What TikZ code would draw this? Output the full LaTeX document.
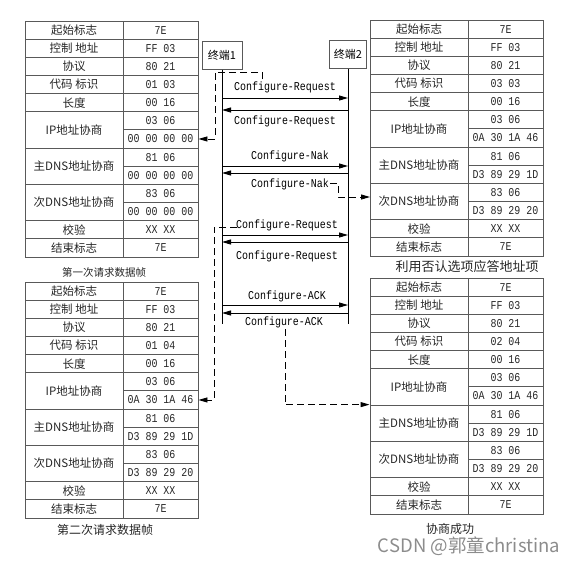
\documentclass[tikz,border=0pt]{standalone}
\usepackage{fontspec}
\usepackage{tikz}
\usetikzlibrary{arrows.meta}
\newfontfamily\cjkfont{Noto Sans CJK SC}
\newfontfamily\monofont[FakeStretch=0.83]{Liberation Mono}

\begin{document}
\begin{tikzpicture}[x=1pt, y=-1pt, line join=miter, >={Triangle[length=9pt,width=5pt]},
    cell/.style={draw=black!65, line width=0.9pt, inner sep=0pt, minimum height=18.15pt, text=black!85},
    keycell/.style={cell, minimum width=98pt, font=\cjkfont\fontsize{11.5}{12}\selectfont},
    valcell/.style={cell, minimum width=75pt, font=\monofont\fontsize{12}{12}\selectfont},
    term/.style={draw=black!65, line width=1pt, minimum height=28pt, inner sep=0pt, font=\cjkfont\fontsize{11}{12}\selectfont},
    msg/.style={->, line width=0.9pt},
    dashto/.style={->, line width=0.9pt, dash pattern=on 7pt off 4pt},
    lab/.style={font=\monofont\fontsize{12}{12}\selectfont, inner sep=0pt},
    frametitle/.style={font=\cjkfont\fontsize{#1}{14}\selectfont, text=black!85, inner sep=0pt}]
    \useasboundingbox (0,0) rectangle (577,563);

    % the four PPP frames
    \foreach \n/\fx/\fy/\cd/\ipv/\dnsv/\dnsw in {
        tl/25/21/01 03/00 00 00 00/00 00 00 00/00 00 00 00,
        tr/370/20/03 03/0A 30 1A 46/D3 89 29 1D/D3 89 29 20,
        bl/25/282/01 04/0A 30 1A 46/D3 89 29 1D/D3 89 29 20,
        br/370/278/02 04/0A 30 1A 46/D3 89 29 1D/D3 89 29 20} {
    \begin{scope}[shift={(\fx,\fy)}]
        \node[keycell] (\n-k1) at (49,9.08) {起始标志};
        \node[valcell] (\n-v1) at (135.5,9.08) {7E};
        \node[keycell] (\n-k2) at (49,27.23) {控制 地址};
        \node[valcell] (\n-v2) at (135.5,27.23) {FF 03};
        \node[keycell] (\n-k3) at (49,45.38) {协议};
        \node[valcell] (\n-v3) at (135.5,45.38) {80 21};
        \node[keycell] (\n-k4) at (49,63.53) {代码 标识};
        \node[valcell] (\n-v4) at (135.5,63.53) {\cd};
        \node[keycell] (\n-k5) at (49,81.68) {长度};
        \node[valcell] (\n-v5) at (135.5,81.68) {00 16};
        \node[keycell, minimum height=36.3pt] (\n-ip) at (49,108.9) {IP地址协商};
        \node[valcell] (\n-ip1) at (135.5,99.83) {03 06};
        \node[valcell] (\n-ip2) at (135.5,117.98) {\ipv};
        \node[keycell, minimum height=36.3pt] (\n-dns) at (49,145.2) {主DNS地址协商};
        \node[valcell] (\n-dns1) at (135.5,136.13) {81 06};
        \node[valcell] (\n-dns2) at (135.5,154.28) {\dnsv};
        \node[keycell, minimum height=36.3pt] (\n-dnsb) at (49,181.5) {次DNS地址协商};
        \node[valcell] (\n-dnsb1) at (135.5,172.43) {83 06};
        \node[valcell] (\n-dnsb2) at (135.5,190.58) {\dnsw};
        \node[keycell] (\n-chk) at (49,208.73) {校验};
        \node[valcell] (\n-chkv) at (135.5,208.73) {XX XX};
        \node[keycell] (\n-end) at (49,226.88) {结束标志};
        \node[valcell] (\n-endv) at (135.5,226.88) {7E};
    \end{scope}
    }

    \node[frametitle=10.5] (c1) at (104,272) {第一次请求数据帧};
    \node[frametitle=13] (c2) at (467,267) {利用否认选项应答地址项};
    \node[frametitle=12] (c3) at (105,530) {第二次请求数据帧};
    \node[frametitle=12] (c4) at (450,529) {协商成功};

    % terminals and lifelines
    \node[term, minimum width=40pt] (t1) at (222,55) {终端1};
    \node[term, minimum width=37pt] (t2) at (348,54.5) {终端2};
    \coordinate (t1e) at (222,324);
    \coordinate (t2e) at (348,324);
    \draw[line width=0.9pt] (t1) -- (t1e);
    \draw[line width=0.9pt] (t2) -- (t2e);

    \foreach \yy [count=\k] in {98,110,166,173,235,242,305,313} {
        \coordinate (a\k) at (222,\yy);
        \coordinate (b\k) at (348,\yy);
    }
    \draw[msg] (a1) -- (b1) node[lab, midway, yshift=11pt] {Configure-Request};
    \draw[msg] (b2) -- (a2) node[lab, midway, yshift=-11pt] {Configure-Request};
    \draw[msg] (a3) -- (b3) node[lab, midway, xshift=5pt, yshift=10pt] {Configure-Nak};
    \draw[msg] (b4) -- (a4) node[lab, midway, xshift=5pt, yshift=-11pt] {Configure-Nak};
    \draw[msg] (a5) -- (b5) node[lab, midway, xshift=2pt, yshift=10pt] {Configure-Request};
    \draw[msg] (b6) -- (a6) node[lab, midway, xshift=2pt, yshift=-14pt] {Configure-Request};
    \draw[msg] (a7) -- (b7) node[lab, midway, xshift=2pt, yshift=9pt] {Configure-ACK};
    \draw[msg] (b8) -- (a8) node[lab, midway, xshift=-1pt, yshift=-9pt] {Configure-ACK};

    % where each message ends up
    \coordinate (r1) at (262,79);
    \draw[dashto] (r1) |- (215,72) |- (tl-ip2.east);
    \coordinate (r2) at (330,183);
    \coordinate (nakend) at (370,197);
    \draw[dashto] (r2) -| (338,197) -- (nakend);
    \coordinate (r3) at (237,227);
    \draw[dashto] (r3) -- (214,227) |- (bl-ip2.east);
    \coordinate (r4) at (285,329);
    \draw[dashto] (r4) |- (br-dns.north west);

    \node[font=\cjkfont\fontsize{18.5}{20}\selectfont, text=black!45, inner sep=0pt] (wm) at (469,546) {CSDN @郭童christina};
\end{tikzpicture}
\end{document}
